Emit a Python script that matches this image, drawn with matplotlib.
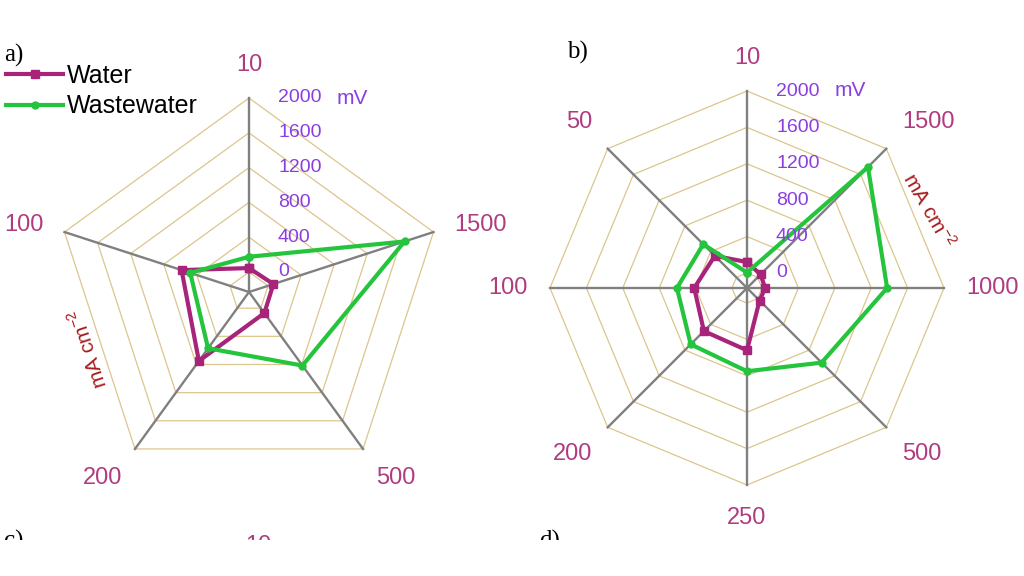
import numpy as np
import matplotlib
matplotlib.use('Agg')
import matplotlib.pyplot as plt
from matplotlib.patches import Rectangle

plt.rcParams['font.family'] = ['Liberation Sans', 'DejaVu Sans']
plt.rcParams['mathtext.default'] = 'regular'

W, H = 1024, 576

# current densities (mA cm-2), clockwise from the top
cats_a = ['10', '1500', '500', '200', '100']
water_a = [45, 65, 70, 750, 585]
waste_a = [175, 1650, 815, 570, 480]

cats_b = ['10', '1500', '1000', '500', '250', '200', '100', '50']
water_b = [120, 45, 35, 30, 520, 505, 415, 335]
waste_b = [5, 1715, 1375, 995, 750, 710, 605, 515]

ticks = [0, 400, 800, 1200, 1600, 2000]

ring_c = '#dcc68e'
spoke_c = '#808080'
water_c = '#a8237a'
waste_c = '#25c43d'
cat_c = '#b03c80'
tick_c = '#8a3ee0'
unit_c = '#a81c1c'


def radar(fig, cx, cy, rpx, off, cats, water, waste, unit_xy, unit_rot):
    half = 240
    ax = fig.add_axes([(cx - half) / W, (H - cy - half) / H, 2 * half / W, 2 * half / H])
    top = 2000 + off
    s = rpx / top
    lim = half / s
    ax.set_xlim(-lim, lim)
    ax.set_ylim(-lim, lim)
    ax.axis('off')

    ang = np.deg2rad(90 - 360 / len(cats) * np.arange(len(cats)))
    cos, sin = np.cos(ang), np.sin(ang)

    # polygon grid
    for v in ticks:
        r = v + off
        ax.plot(np.append(r * cos, r * cos[0]), np.append(r * sin, r * sin[0]),
                color=ring_c, lw=0.9, zorder=1)
    for c, sn in zip(cos, sin):
        ax.plot([0, top * c], [0, top * sn], color=spoke_c, lw=1.7, zorder=2)

    # series
    lines = []
    for vals, col, mk, ms, lab in [(water, water_c, 's', 5.5, 'Water'),
                                   (waste, waste_c, 'o', 5, 'Wastewater')]:
        r = np.array(vals) + off
        ln, = ax.plot(np.append(r * cos, r[0] * cos[0]), np.append(r * sin, r[0] * sin[0]),
                      color=col, lw=3, marker=mk, ms=ms, zorder=3, label=lab)
        lines.append(ln)

    # category labels
    pad = 22 / s
    for lab, c, sn in zip(cats, cos, sin):
        ha = 'left' if c > 0.3 else ('right' if c < -0.3 else 'center')
        va = 'bottom' if sn > 0.5 else ('top' if sn < -0.5 else 'center')
        ax.text((top + pad) * c, (top + pad) * sn, lab, color=cat_c, fontsize=17,
                ha=ha, va=va)

    # radial tick labels
    x0 = 29 / s
    for v in ticks:
        ax.text(x0, v + off, str(v), color=tick_c, fontsize=14, ha='left', va='center')
    ax.text(x0 + 59 / s, 2000 + off, 'mV', color=tick_c, fontsize=15, ha='left', va='center')

    ax.text((unit_xy[0] - cx) / s, (cy - unit_xy[1]) / s, 'mA cm$^{-2}$', color=unit_c,
            fontsize=15, rotation=unit_rot, ha='center', va='center', rotation_mode='anchor')
    return ax, lines


fig = plt.figure(figsize=(W / 100, H / 100), dpi=100)

ax_a, lines = radar(fig, 249, 292, 194, 230, cats_a, water_a, waste_a, (88, 348), 108)
ax_b, _ = radar(fig, 747, 288, 197, 165, cats_b, water_b, waste_b, (929, 210), -60)

ax_a.legend(handles=lines, loc='upper left', bbox_to_anchor=(6 / W, 1 - 64 / H),
            bbox_transform=fig.transFigure, frameon=False, fontsize=18, numpoints=1,
            handlelength=2.3, handletextpad=0.15, labelspacing=0.25, borderpad=0,
            borderaxespad=0)

serif = ['Liberation Serif', 'DejaVu Serif']
fig.text(14 / W, 1 - 55 / H, 'a)', family=serif, fontsize=18, ha='center', va='center')
fig.text(577 / W, 1 - 52 / H, 'b)', family=serif, fontsize=18, ha='center', va='center')

# next row of panels, cut off by the crop
fig.text(14 / W, 1 - 530 / H, 'c)', family=serif, fontsize=18, ha='center', va='top')
fig.text(550 / W, 1 - 530 / H, 'd)', family=serif, fontsize=18, ha='center', va='top')
fig.text(258 / W, 1 - 535 / H, '10', color=cat_c, fontsize=17, ha='center', va='top')
fig.patches.append(Rectangle((0, 0), 1, (H - 540) / H, transform=fig.transFigure,
                             facecolor='white', edgecolor='none', zorder=10))

fig.savefig('out.png', dpi=100)
